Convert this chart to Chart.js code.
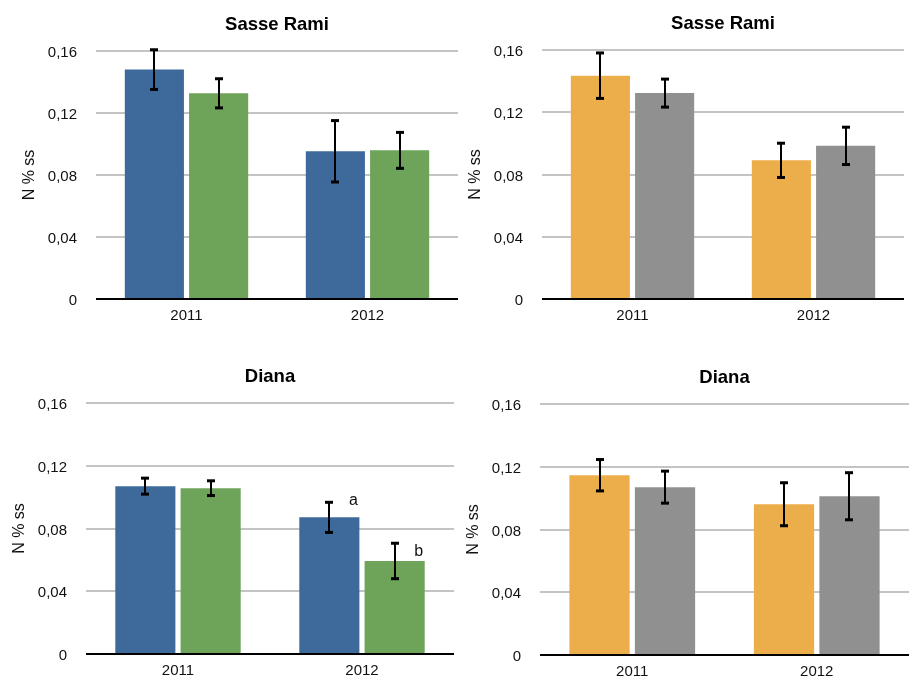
<!DOCTYPE html>
<html><head><meta charset="utf-8">
<script src="https://cdn.jsdelivr.net/npm/chart.js@4/dist/chart.umd.min.js"></script>
<style>
html,body{margin:0;padding:0;background:#fff;overflow:hidden;width:909px;height:677px;}
#wrap{position:relative;width:909px;height:677px;overflow:hidden;}
.box{position:absolute;}
</style></head><body><div id="wrap"></div>
<script>
const categories = ['2011', '2012'];
const yTickLabels = ['0', '0,04', '0,08', '0,12', '0,16'];
const yAxisTitle = 'N % ss';
const titles = ['Sasse Rami', 'Sasse Rami', 'Diana', 'Diana'];

// Sasse Rami (left panel)
const srBlue = [0.148, 0.0953];
const srBlueErr = [0.0128, 0.0198];
const srGreen = [0.1327, 0.0959];
const srGreenErr = [0.0094, 0.0116];
// Sasse Rami (right panel)
const srOrange = [0.1435, 0.0891];
const srOrangeErr = [0.0146, 0.0110];
const srGray = [0.1323, 0.0984];
const srGrayErr = [0.0090, 0.0120];
// Diana (left panel)
const diBlue = [0.1070, 0.0871];
const diBlueErr = [0.0051, 0.0096];
const diGreen = [0.1057, 0.0593];
const diGreenErr = [0.0047, 0.0113];
// Diana (right panel)
const diOrange = [0.1146, 0.0961];
const diOrangeErr = [0.0100, 0.0137];
const diGray = [0.1070, 0.1012];
const diGrayErr = [0.0102, 0.0150];
// significance letters, Diana left panel, 2012
const diLetters = ['a', 'b'];
const diLetterValues = [0.095, 0.0625];

const FONT = '"Liberation Sans", Arial, Helvetica, sans-serif';
const C_BLUE = '#3d6a9b', C_GREEN = '#6ea45a', C_ORANGE = '#ecae4b', C_GRAY = '#8f908f';

const panels = [
  {plot: [96, 51, 458, 299], title: titles[0], series: [
    {values: srBlue, err: srBlueErr, color: C_BLUE},
    {values: srGreen, err: srGreenErr, color: C_GREEN}]},
  {plot: [542, 50, 904, 299], title: titles[1], series: [
    {values: srOrange, err: srOrangeErr, color: C_ORANGE},
    {values: srGray, err: srGrayErr, color: C_GRAY}]},
  {plot: [86, 403, 454, 654], title: titles[2], series: [
    {values: diBlue, err: diBlueErr, color: C_BLUE, letter: diLetters[0], letterValue: diLetterValues[0]},
    {values: diGreen, err: diGreenErr, color: C_GREEN, letter: diLetters[1], letterValue: diLetterValues[1]}]},
  {plot: [540, 404, 909, 655], title: titles[3], series: [
    {values: diOrange, err: diOrangeErr, color: C_ORANGE},
    {values: diGray, err: diGrayErr, color: C_GRAY}]}
];

const errPlugin = {
  id: 'errbars',
  afterDatasetsDraw(chart) {
    const ctx = chart.ctx, ys = chart.scales.y;
    chart.data.datasets.forEach((ds, di) => {
      const meta = chart.getDatasetMeta(di);
      meta.data.forEach((bar, i) => {
        const v = ds.data[i], e = ds.err[i];
        const x = Math.round(bar.x);
        const yh = ys.getPixelForValue(v + e), yl = ys.getPixelForValue(v - e);
        ctx.save();
        ctx.fillStyle = '#000';
        ctx.fillRect(x - 1, yh, 2, yl - yh);
        ctx.fillRect(x - 4, yh - 1.5, 8, 3);
        ctx.fillRect(x - 4, yl - 1.5, 8, 3);
        ctx.restore();
      });
      if (ds.letter) {
        const bar = meta.data[1];
        ctx.save();
        ctx.fillStyle = '#111';
        ctx.font = '16px ' + FONT;
        ctx.textAlign = 'center';
        ctx.textBaseline = 'alphabetic';
        ctx.fillText(ds.letter, bar.x + 24, ys.getPixelForValue(ds.letterValue));
        ctx.restore();
      }
    });
  }
};

const wrap = document.getElementById('wrap');
panels.forEach(p => {
  const cv = document.createElement('canvas');
  const L = p.plot[0] - 96, T = p.plot[1] - 51;
  const W = p.plot[2] - L, H = p.plot[3] - T + 41;
  cv.width = W; cv.height = H;
  cv.style.width = W + 'px'; cv.style.height = H + 'px';
  cv.style.left = L + 'px'; cv.style.top = T + 'px';
  cv.className = 'box';
  wrap.appendChild(cv);
  new Chart(cv, {
    type: 'bar',
    data: {
      labels: categories,
      datasets: p.series.map(s => ({
        data: s.values, err: s.err, letter: s.letter, letterValue: s.letterValue,
        backgroundColor: s.color, borderWidth: 0,
        categoryPercentage: 0.71, barPercentage: 0.92
      }))
    },
    options: {
      responsive: false, animation: false, devicePixelRatio: 1,
      layout: {padding: 0},
      plugins: {
        legend: {display: false},
        tooltip: {enabled: false},
        title: {display: true, text: p.title, fullSize: false, color: '#000',
          font: {family: FONT, size: 18.5, weight: 'bold', lineHeight: 1},
          padding: {top: 16, bottom: 16.5}}
      },
      scales: {
        x: {
          grid: {display: false, drawTicks: false}, border: {display: false},
          ticks: {color: '#111', font: {family: FONT, size: 15}, padding: 8},
          afterFit(s) { s.height = 41; }
        },
        y: {
          min: 0, max: 0.16,
          ticks: {stepSize: 0.04, padding: 19, labelOffset: 2, color: '#111', font: {family: FONT, size: 15},
            callback: (v, i) => yTickLabels[i]},
          grid: {drawTicks: false, lineWidth: 2,
            color: c => (c.tick && c.tick.value === 0) ? '#000' : '#c4c4c4'},
          border: {display: false},
          title: {display: true, text: yAxisTitle, color: '#111',
            font: {family: FONT, size: 16, lineHeight: 1}, padding: {top: 21.3, bottom: 0}},
          afterFit(s) { s.width = 96; }
        }
      }
    },
    plugins: [errPlugin]
  });
});
</script>
</body></html>
